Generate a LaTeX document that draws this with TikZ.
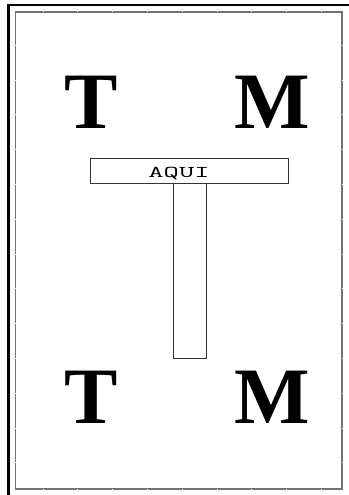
\documentclass[tikz,border=0pt]{standalone}
\usepackage{fontspec}
\setmainfont{Liberation Serif}
\usetikzlibrary{positioning}
\tikzset{
  keret/.style={line width=2.6pt,black},
  belso/.style={draw=black!55,line width=1.3pt},
  jel/.style={white,line width=0.8pt},
  betu/.style={inner sep=0pt,font=\fontsize{80}{80}\selectfont\bfseries},
  lap/.style={draw=black!80,line width=0.9pt,fill=white},
}
\begin{document}
\begin{tikzpicture}[x=1pt,y=-1pt]
  \useasboundingbox (0,0) rectangle (348,495);
  % outer frame (only top and left fall inside)
  \draw[keret] (8.7,497) -- (8.7,5.2) -- (350,5.2);
  % inner frame with tick marks
  \draw[belso] (15.8,12) rectangle (342,489);
  \foreach \x in {43,77.8,...,330} {
    \draw[jel] (\x,11) -- (\x,12.5);
    \draw[jel] (\x,488.5) -- (\x,490);
  }
  \foreach \y in {45.2,80,...,480} {
    \draw[jel] (15,\y) -- (16.5,\y);
    \draw[jel] (341.5,\y) -- (343,\y);
  }
  % corner letters
  \node[betu,anchor=base] (tf) at (91,128) {T};
  \node[betu,anchor=base] (mf) at (272.5,128) {M};
  \node[betu,anchor=base] (ta) at (91,423) {T};
  \node[betu,anchor=base] (ma) at (272.5,423) {M};
  % the T shaped sign
  \draw[lap] (173,182.5) rectangle (206.5,358);
  \draw[lap] (90,158) rectangle (288.5,183);
  \node[anchor=base,inner sep=0pt] (felirat) at (179,177.5)
    {\scalebox{1.8}[1]{\ttfamily\fontsize{16.5}{16.5}\selectfont AQUI}};
\end{tikzpicture}
\end{document}
